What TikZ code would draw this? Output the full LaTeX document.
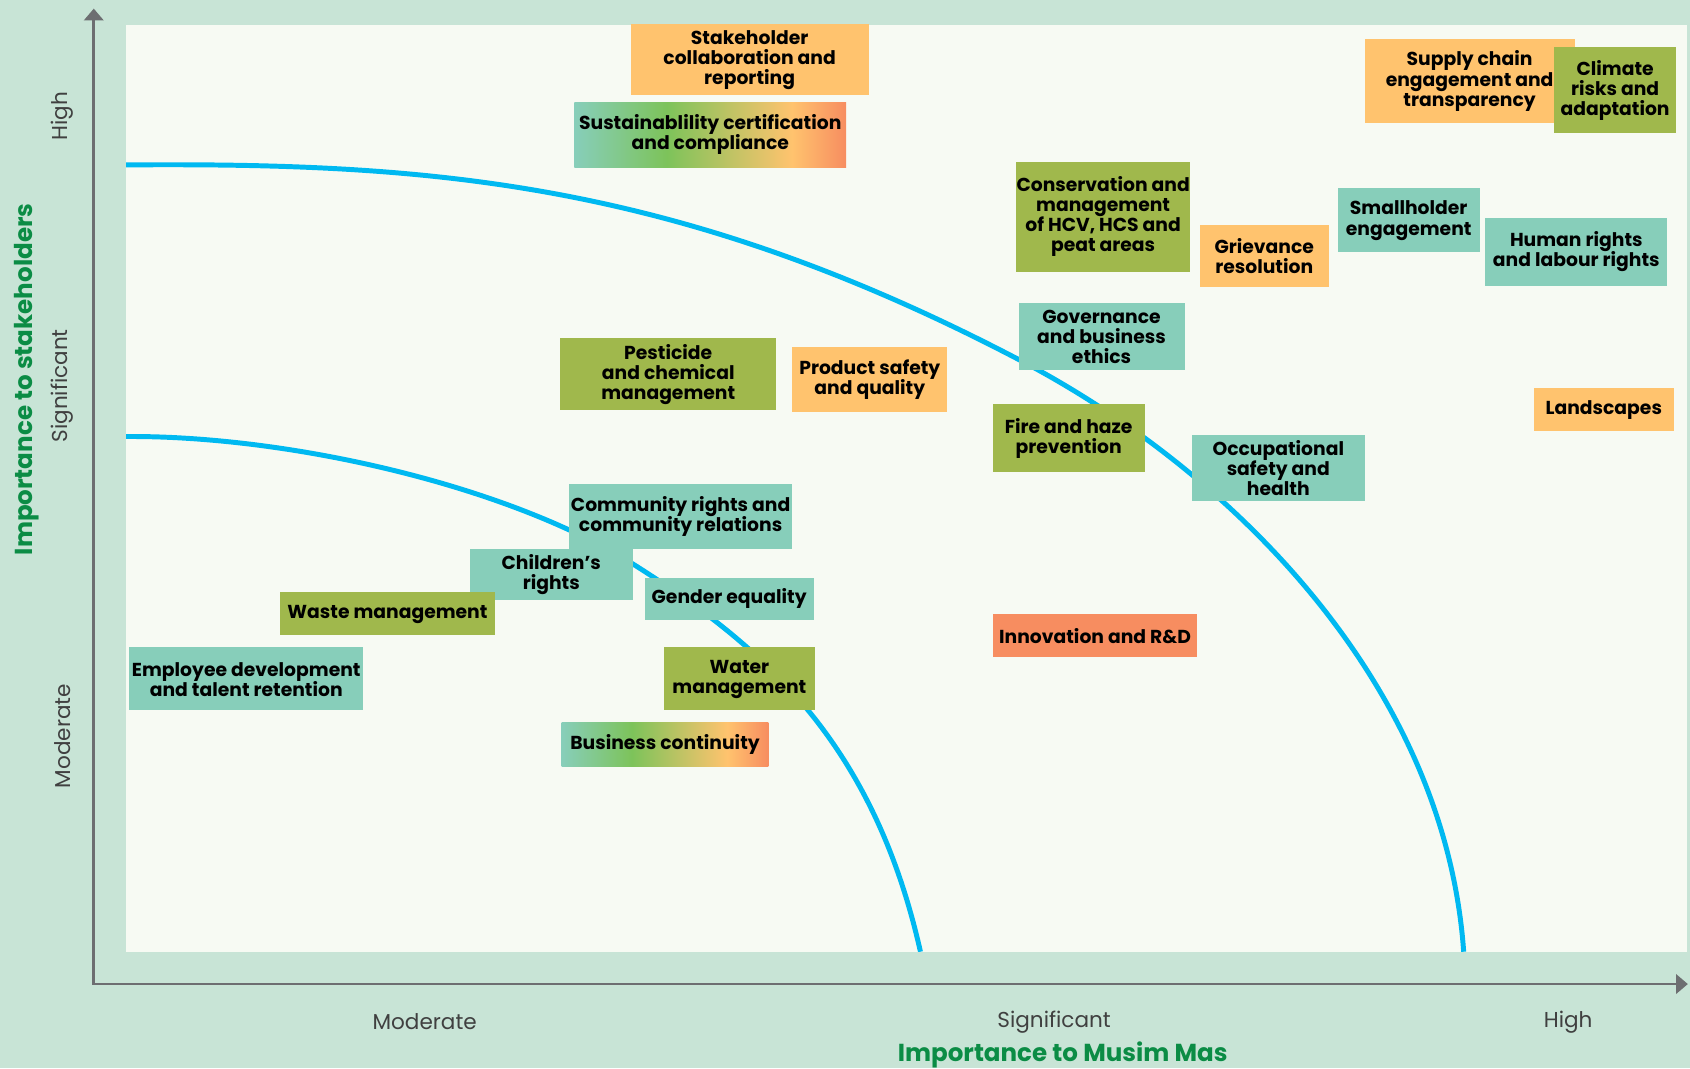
\documentclass[tikz,border=0pt]{standalone}
\usepackage{fontspec}
\setmainfont{Poppins}
\usetikzlibrary{arrows.meta}

\definecolor{bgmint}{HTML}{C8E4D6}
\definecolor{panelwhite}{HTML}{F7FAF3}
\definecolor{axisgray}{HTML}{6D6E71}
\definecolor{axistext}{HTML}{404040}
\definecolor{titlegreen}{HTML}{0B8C45}
\definecolor{curveblue}{HTML}{00B9F1}
\definecolor{orangebox}{HTML}{FFC36E}
\definecolor{olivebox}{HTML}{A0B84C}
\definecolor{tealbox}{HTML}{87CEBA}
\definecolor{salmonbox}{HTML}{F78D60}
\definecolor{leafgreen}{HTML}{7DC35A}

% the path spans 25bp..75bp of the shading
\pgfdeclarehorizontalshading{mixfill}{100bp}{color(0bp)=(tealbox); color(25bp)=(tealbox); color(42bp)=(leafgreen); color(65bp)=(orangebox); color(75bp)=(salmonbox); color(100bp)=(salmonbox)}

% centred lines on a fixed baseline grid, a little extra room on top
\newcommand{\issuetext}[1]{\vbox{\lineskiplimit=-\maxdimen\baselineskip=9.3pt\let\\\cr
  \halign{\hfil##\hfil\cr\rule{0pt}{\dimexpr\fontcharht\font`S+3.5pt\relax}#1\crcr}\kern2.5pt}}

\tikzset{
  issue/.style={inner sep=0pt, text=black,
    font=\bfseries\fontsize{8.7}{9.3}\selectfont},
  axislabel/.style={text=axistext, font=\fontsize{10}{12}\selectfont},
  axistitle/.style={text=titlegreen, font=\bfseries\fontsize{11.4}{13}\selectfont},
  threshold/.style={curveblue, line width=2.3pt},
}

\begin{document}
\begin{tikzpicture}[x=0.5pt, y=-0.5pt]
  % background and panel
  \useasboundingbox (0,0) rectangle (1568,991);
  \fill[bgmint] (0,0) rectangle (1568,991);
  \fill[panelwhite] (117,23) rectangle (1565,883);

  % threshold curves
  \begin{scope}
    \clip (117,23) rectangle (1565,883);
    \draw[threshold] (117,153) .. controls (397,151) and (627,167) .. (946,334)
      .. controls (1141,436) and (1340.5,634) .. (1358,883);
    \draw[threshold] (117,405) .. controls (267,404) and (472,450) .. (590,525)
      .. controls (708,600) and (810,688) .. (854,883);
  \end{scope}

  % axes
  \coordinate (origin) at (87,913);
  \coordinate (ytip) at (87,8);
  \coordinate (xtip) at (1566,913);
  \draw[axisgray, line width=1.3pt, {Triangle[width=9pt,length=5.5pt]}-{Triangle[width=9pt,length=5.5pt]}] (ytip) -- (origin) -- (xtip);

  % axis labels
  \node[axislabel, rotate=90] (yhigh) at (58,108) {High};
  \node[axislabel, rotate=90] (ysig) at (58,358) {Significant};
  \node[axislabel, rotate=90] (ymod) at (58,683) {Moderate};
  \node[axistitle, rotate=90] (ytitle) at (25,352) {Importance to stakeholders};
  \node[axislabel] (xmod) at (394,948) {Moderate};
  \node[axislabel] (xsig) at (978,948) {Significant};
  \node[axislabel] (xhigh) at (1455,948) {High};
  \node[axistitle] (xtitle) at (986,979) {Importance to Musim Mas};

  % material issues
  \node[issue, fill=orangebox, minimum width=110.5pt, minimum height=32pt] (stake) at (695.5,55) {\issuetext{Stakeholder\\collaboration and\\reporting}};
  \node[issue, shading=mixfill, minimum width=126pt, minimum height=30pt] (cert) at (659,125) {\issuetext{Sustainablility certification\\and compliance}};
  \node[issue, fill=orangebox, minimum width=97.5pt, minimum height=39pt] (supply) at (1363.5,75) {\issuetext{Supply chain\\engagement and\\transparency}};
  \node[issue, fill=olivebox, minimum width=56.5pt, minimum height=39.5pt] (climate) at (1498.5,83.5) {\issuetext{Climate\\risks and\\adaptation}};
  \node[issue, fill=olivebox, minimum width=80.5pt, minimum height=51pt] (conserv) at (1023.5,201) {\issuetext{Conservation and\\management\\of HCV, HCS and\\peat areas}};
  \node[issue, fill=orangebox, minimum width=60pt, minimum height=28.5pt] (griev) at (1173,237.5) {\issuetext{Grievance\\resolution}};
  \node[issue, fill=tealbox, minimum width=66pt, minimum height=30pt] (small) at (1307,204) {\issuetext{Smallholder\\engagement}};
  \node[issue, fill=tealbox, minimum width=84.5pt, minimum height=31.5pt] (human) at (1462.5,233.5) {\issuetext{Human rights\\and labour rights}};
  \node[issue, fill=tealbox, minimum width=77pt, minimum height=31pt] (govern) at (1022,312) {\issuetext{Governance\\and business\\ethics}};
  \node[issue, fill=olivebox, minimum width=100pt, minimum height=33pt] (pest) at (620,347) {\issuetext{Pesticide\\and chemical\\management}};
  \node[issue, fill=orangebox, minimum width=72pt, minimum height=30pt] (product) at (807,352) {\issuetext{Product safety\\and quality}};
  \node[issue, fill=orangebox, minimum width=65pt, minimum height=20pt] (land) at (1488,380) {\issuetext{Landscapes}};
  \node[issue, fill=olivebox, minimum width=70.5pt, minimum height=31.5pt] (fire) at (991.5,406.5) {\issuetext{Fire and haze\\prevention}};
  \node[issue, fill=tealbox, minimum width=80pt, minimum height=30pt] (occup) at (1186,434) {\issuetext{Occupational\\safety and\\health}};
  \node[issue, fill=tealbox, minimum width=103.5pt, minimum height=30pt] (commun) at (631.5,479) {\issuetext{Community rights and\\community relations}};
  \node[issue, fill=tealbox, minimum width=75.5pt, minimum height=21pt] (child) at (511.5,533) {\issuetext{Children’s\\rights}};
  \node[issue, fill=tealbox, minimum width=78.5pt, minimum height=19.5pt] (gender) at (676.5,555.5) {\issuetext{Gender equality}};
  \node[issue, fill=olivebox, minimum width=99.5pt, minimum height=20pt] (waste) at (359.5,569) {\issuetext{Waste management}};
  \node[issue, fill=salmonbox, minimum width=95pt, minimum height=20pt] (innov) at (1016,590) {\issuetext{Innovation and R\&D}};
  \node[issue, fill=tealbox, minimum width=108.5pt, minimum height=29.5pt] (employ) at (228.5,629.5) {\issuetext{Employee development\\and talent retention}};
  \node[issue, fill=olivebox, minimum width=70pt, minimum height=29.5pt] (water) at (686,629.5) {\issuetext{Water\\management}};
  \node[issue, shading=mixfill, minimum width=96pt, minimum height=20.5pt] (contin) at (617,690.5) {\issuetext{Business continuity}};
\end{tikzpicture}
\end{document}
